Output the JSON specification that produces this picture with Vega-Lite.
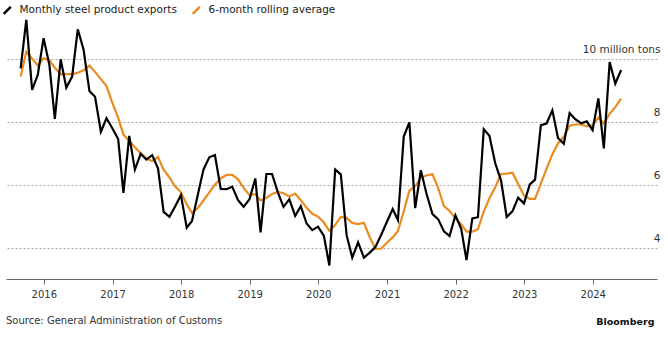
{
  "$schema": "https://vega.github.io/schema/vega-lite/v6.json",
  "width": 651,
  "height": 262,
  "autosize": {"type": "none"},
  "padding": {"left": 6, "top": 17, "right": 11, "bottom": 59},
  "background": "white",
  "config": {"view": {"stroke": null}, "font": "DejaVu Sans"},
  "title": {
    "text": "Source: General Administration of Customs",
    "orient": "bottom",
    "anchor": "start",
    "frame": "group",
    "fontSize": 10,
    "fontWeight": "normal",
    "color": "#333333",
    "font": "DejaVu Sans",
    "offset": 0,
    "dy": -10
  },
  "data": {
    "values": [
      {"date": "2015-08-31", "exports": 9.71, "average": 9.45},
      {"date": "2015-09-30", "exports": 11.25, "average": 10.24},
      {"date": "2015-10-31", "exports": 9.03, "average": 10.02},
      {"date": "2015-11-30", "exports": 9.50, "average": 9.80},
      {"date": "2015-12-31", "exports": 10.67, "average": 10.03},
      {"date": "2016-01-31", "exports": 9.82, "average": 9.97},
      {"date": "2016-02-29", "exports": 8.11, "average": 9.73},
      {"date": "2016-03-31", "exports": 10.00, "average": 9.52},
      {"date": "2016-04-30", "exports": 9.10, "average": 9.53},
      {"date": "2016-05-31", "exports": 9.45, "average": 9.53},
      {"date": "2016-06-30", "exports": 10.95, "average": 9.57},
      {"date": "2016-07-31", "exports": 10.30, "average": 9.65},
      {"date": "2016-08-31", "exports": 8.99, "average": 9.80},
      {"date": "2016-09-30", "exports": 8.81, "average": 9.60},
      {"date": "2016-10-31", "exports": 7.70, "average": 9.37},
      {"date": "2016-11-30", "exports": 8.13, "average": 9.15},
      {"date": "2016-12-31", "exports": 7.81, "average": 8.62},
      {"date": "2017-01-31", "exports": 7.47, "average": 8.15},
      {"date": "2017-02-28", "exports": 5.76, "average": 7.61},
      {"date": "2017-03-31", "exports": 7.57, "average": 7.41},
      {"date": "2017-04-30", "exports": 6.50, "average": 7.21},
      {"date": "2017-05-31", "exports": 7.00, "average": 7.02},
      {"date": "2017-06-30", "exports": 6.82, "average": 6.85},
      {"date": "2017-07-31", "exports": 6.96, "average": 6.77},
      {"date": "2017-08-31", "exports": 6.54, "average": 6.90},
      {"date": "2017-09-30", "exports": 5.16, "average": 6.50},
      {"date": "2017-10-31", "exports": 5.00, "average": 6.25},
      {"date": "2017-11-30", "exports": 5.33, "average": 5.97},
      {"date": "2017-12-31", "exports": 5.69, "average": 5.78},
      {"date": "2018-01-31", "exports": 4.66, "average": 5.40},
      {"date": "2018-02-28", "exports": 4.87, "average": 5.12},
      {"date": "2018-03-31", "exports": 5.70, "average": 5.28},
      {"date": "2018-04-30", "exports": 6.50, "average": 5.52},
      {"date": "2018-05-31", "exports": 6.89, "average": 5.78},
      {"date": "2018-06-30", "exports": 6.96, "average": 6.02},
      {"date": "2018-07-31", "exports": 5.89, "average": 6.22},
      {"date": "2018-08-31", "exports": 5.88, "average": 6.33},
      {"date": "2018-09-30", "exports": 5.96, "average": 6.33},
      {"date": "2018-10-31", "exports": 5.53, "average": 6.19},
      {"date": "2018-11-30", "exports": 5.32, "average": 5.92},
      {"date": "2018-12-31", "exports": 5.56, "average": 5.69},
      {"date": "2019-01-31", "exports": 6.22, "average": 5.72},
      {"date": "2019-02-28", "exports": 4.51, "average": 5.52},
      {"date": "2019-03-31", "exports": 6.36, "average": 5.60},
      {"date": "2019-04-30", "exports": 6.36, "average": 5.73},
      {"date": "2019-05-31", "exports": 5.78, "average": 5.79},
      {"date": "2019-06-30", "exports": 5.32, "average": 5.75},
      {"date": "2019-07-31", "exports": 5.56, "average": 5.65},
      {"date": "2019-08-31", "exports": 5.03, "average": 5.74},
      {"date": "2019-09-30", "exports": 5.34, "average": 5.53},
      {"date": "2019-10-31", "exports": 4.79, "average": 5.29},
      {"date": "2019-11-30", "exports": 4.58, "average": 5.10},
      {"date": "2019-12-31", "exports": 4.69, "average": 5.01},
      {"date": "2020-01-31", "exports": 4.40, "average": 4.82},
      {"date": "2020-02-29", "exports": 3.46, "average": 4.56},
      {"date": "2020-03-31", "exports": 6.50, "average": 4.74},
      {"date": "2020-04-30", "exports": 6.35, "average": 5.00},
      {"date": "2020-05-31", "exports": 4.42, "average": 4.97},
      {"date": "2020-06-30", "exports": 3.71, "average": 4.81},
      {"date": "2020-07-31", "exports": 4.19, "average": 4.77},
      {"date": "2020-08-31", "exports": 3.71, "average": 4.81},
      {"date": "2020-09-30", "exports": 3.86, "average": 4.37},
      {"date": "2020-10-31", "exports": 4.04, "average": 3.99},
      {"date": "2020-11-30", "exports": 4.42, "average": 3.99},
      {"date": "2020-12-31", "exports": 4.84, "average": 4.18},
      {"date": "2021-01-31", "exports": 5.25, "average": 4.35},
      {"date": "2021-02-28", "exports": 4.90, "average": 4.55},
      {"date": "2021-03-31", "exports": 7.55, "average": 5.17},
      {"date": "2021-04-30", "exports": 8.00, "average": 5.83},
      {"date": "2021-05-31", "exports": 5.28, "average": 5.97},
      {"date": "2021-06-30", "exports": 6.48, "average": 6.24},
      {"date": "2021-07-31", "exports": 5.72, "average": 6.32},
      {"date": "2021-08-31", "exports": 5.09, "average": 6.35},
      {"date": "2021-09-30", "exports": 4.93, "average": 5.92},
      {"date": "2021-10-31", "exports": 4.54, "average": 5.34},
      {"date": "2021-11-30", "exports": 4.39, "average": 5.19},
      {"date": "2021-12-31", "exports": 5.05, "average": 4.95},
      {"date": "2022-01-31", "exports": 4.62, "average": 4.77},
      {"date": "2022-02-28", "exports": 3.63, "average": 4.53},
      {"date": "2022-03-31", "exports": 4.95, "average": 4.53},
      {"date": "2022-04-30", "exports": 4.99, "average": 4.61},
      {"date": "2022-05-31", "exports": 7.78, "average": 5.17},
      {"date": "2022-06-30", "exports": 7.57, "average": 5.59},
      {"date": "2022-07-31", "exports": 6.70, "average": 5.94},
      {"date": "2022-08-31", "exports": 6.15, "average": 6.36},
      {"date": "2022-09-30", "exports": 5.00, "average": 6.37},
      {"date": "2022-10-31", "exports": 5.18, "average": 6.40},
      {"date": "2022-11-30", "exports": 5.61, "average": 6.04},
      {"date": "2022-12-31", "exports": 5.43, "average": 5.68},
      {"date": "2023-01-31", "exports": 6.03, "average": 5.57},
      {"date": "2023-02-28", "exports": 6.18, "average": 5.57},
      {"date": "2023-03-31", "exports": 7.91, "average": 6.06},
      {"date": "2023-04-30", "exports": 7.96, "average": 6.52},
      {"date": "2023-05-31", "exports": 8.38, "average": 6.98},
      {"date": "2023-06-30", "exports": 7.50, "average": 7.33},
      {"date": "2023-07-31", "exports": 7.32, "average": 7.54},
      {"date": "2023-08-31", "exports": 8.29, "average": 7.89},
      {"date": "2023-09-30", "exports": 8.10, "average": 7.93},
      {"date": "2023-10-31", "exports": 7.97, "average": 7.93},
      {"date": "2023-11-30", "exports": 8.03, "average": 7.87},
      {"date": "2023-12-31", "exports": 7.75, "average": 7.91},
      {"date": "2024-01-31", "exports": 8.76, "average": 8.15},
      {"date": "2024-02-29", "exports": 7.17, "average": 7.96},
      {"date": "2024-03-31", "exports": 9.91, "average": 8.27},
      {"date": "2024-04-30", "exports": 9.23, "average": 8.48},
      {"date": "2024-05-31", "exports": 9.66, "average": 8.75}
    ]
  },
  "transform": [
    {"fold": ["average", "exports"], "as": ["series", "value"]}
  ],
  "mark": {"type": "line", "strokeWidth": 2.2, "clip": false},
  "encoding": {
    "x": {
      "field": "date",
      "type": "temporal",
      "scale": {"domain": ["2015-06-14", "2024-12-08"]},
      "axis": {
        "format": "%Y",
        "tickCount": {"interval": "year", "step": 1},
        "grid": false,
        "domainColor": "#666666",
        "tickColor": "#666666",
        "tickSize": 5,
        "labelFontSize": 10,
        "labelColor": "#333333",
        "labelPadding": 5,
        "labelFont": "DejaVu Sans",
        "title": "Bloomberg",
        "titleFont": "DejaVu Sans",
        "titleFontSize": 9.5,
        "titleFontWeight": "bold",
        "titleColor": "#111111",
        "titleAnchor": "end",
        "titleAlign": "right",
        "titleBaseline": "alphabetic",
        "titleX": 648,
        "titleY": 45
      }
    },
    "y": {
      "field": "value",
      "type": "quantitative",
      "scale": {"domain": [3.03, 11.34], "nice": false, "zero": false},
      "axis": {
        "orient": "right",
        "values": [4, 6, 8, 10],
        "labelExpr": "datum.value == 10 ? '10 million tons' : datum.label",
        "domain": false,
        "ticks": false,
        "grid": true,
        "gridDash": [2, 2],
        "gridColor": "#aaaaaa",
        "gridWidth": 1,
        "labelAlign": "right",
        "labelBaseline": "alphabetic",
        "labelOffset": -7,
        "labelPadding": 3,
        "labelFontSize": 10.5,
        "labelColor": "#333333",
        "labelFont": "DejaVu Sans",
        "title": null
      }
    },
    "color": {
      "field": "series",
      "type": "nominal",
      "scale": {"domain": ["exports", "average"], "range": ["#000000", "#eb8c22"]},
      "legend": {
        "orient": "none",
        "legendX": -4,
        "legendY": -12,
        "direction": "horizontal",
        "title": null,
        "labelExpr": "datum.value == 'exports' ? 'Monthly steel product exports' : '6-month rolling average'",
        "symbolType": "M-1,1L1,-1",
        "symbolStrokeWidth": 2.5,
        "symbolSize": 50,
        "labelFontSize": 10.5,
        "labelColor": "#222222",
        "labelFont": "DejaVu Sans",
        "labelOffset": 7,
        "columnPadding": 10
      }
    }
  }
}
